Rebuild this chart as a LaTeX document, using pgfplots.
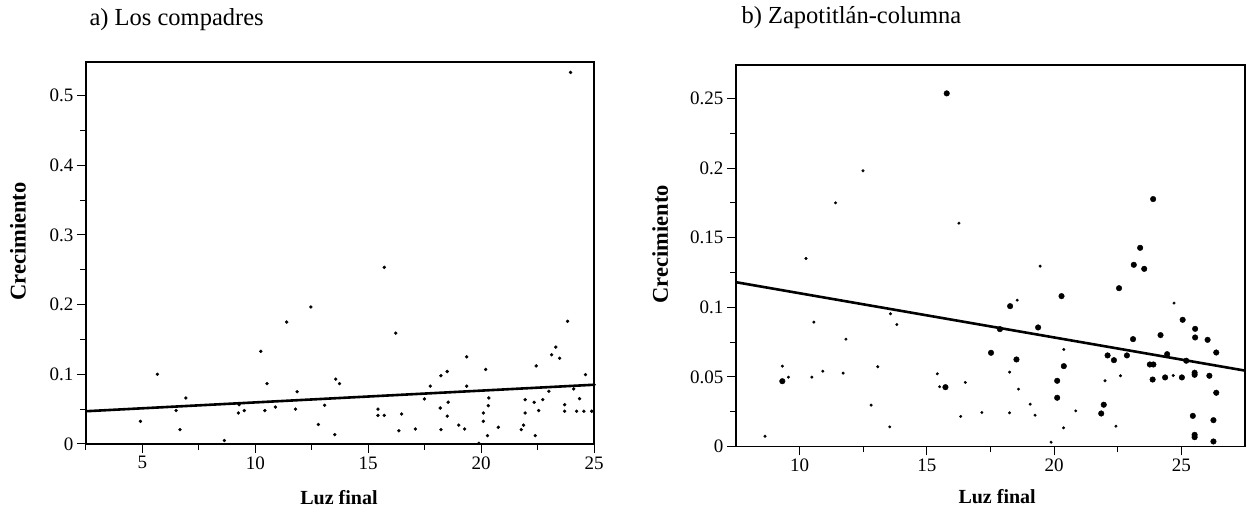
\documentclass[border=0pt]{standalone}
\usepackage{fontspec}
\setmainfont{Liberation Serif}
\usepackage{pgfplots}
\pgfplotsset{compat=1.18}

\pgfplotsset{
  refstyle/.style={
    scale only axis,
    anchor=south west,
    clip=false,
    tick pos=left,
    tick align=outside,
    major tick length=9pt,
    minor tick length=6pt,
    every tick/.style={black, line width=1pt},
    axis line style={line width=1.1pt},
    tick label style={font=\fontsize{19}{19}\selectfont},
    /pgf/number format/assume math mode=true,
    /pgf/number format/.cd, fixed, precision=3,
    /pgfplots/.cd,
    xlabel style={font=\fontsize{20}{20}\selectfont\bfseries},
    ylabel style={font=\fontsize{22.5}{22.5}\selectfont\bfseries},
    title style={anchor=west, font=\fontsize{24.5}{24.5}\selectfont},
  }
}

\begin{document}
\begin{tikzpicture}
\useasboundingbox (0,0) rectangle (1247pt,513pt);

% ---------------- a) Los compadres ----------------
\begin{axis}[refstyle,
  at={(86pt,69pt)}, width=508pt, height=382pt,
  xmin=2.5, xmax=25, ymin=0, ymax=0.548,
  xtick={5,10,15,20,25}, minor xtick={2.5,7.5,12.5,17.5,22.5},
  ytick={0,0.1,0.2,0.3,0.4,0.5}, minor ytick={0.05,0.15,0.25,0.35,0.45},
  xlabel={Luz final}, ylabel={Crecimiento},
  xlabel style={at={(axis description cs:0.498,-0.139)}, anchor=center},
  ylabel style={at={(axis description cs:-0.134,0.53)}, anchor=center},
  title={a) Los compadres},
  title style={at={(axis description cs:0,1.095)}},
]
\addplot[only marks, mark=*, mark size=1.5pt, black] coordinates {
(23.96,0.533) (15.71,0.2535) (12.46,0.1966) (11.39,0.175) (23.83,0.176)
(16.22,0.159) (10.24,0.133) (23.31,0.139) (23.12,0.128) (23.48,0.123)
(19.36,0.125) (22.44,0.112) (20.2,0.107) (18.5,0.104) (18.22,0.098)
(5.66,0.100) (24.62,0.0995) (13.56,0.093) (13.73,0.0866) (10.52,0.0866)
(17.75,0.083) (19.36,0.083) (24.1,0.079) (11.85,0.075) (23.0,0.0756)
(6.92,0.066) (17.49,0.0646) (20.34,0.066) (21.95,0.0636) (22.73,0.0636)
(24.36,0.065) (18.54,0.060) (22.35,0.0598) (23.7,0.0564) (13.07,0.0555)
(20.32,0.055) (10.89,0.053) (9.28,0.0564) (18.19,0.0516) (11.78,0.050)
(15.43,0.050) (6.49,0.048) (9.51,0.048) (10.42,0.048) (22.55,0.048)
(23.7,0.047) (24.23,0.047) (24.55,0.047) (24.9,0.047) (9.25,0.0445)
(20.1,0.0445) (21.95,0.0445) (15.43,0.041) (15.71,0.041) (16.48,0.043)
(18.5,0.040) (4.91,0.0325) (20.1,0.0325) (12.79,0.028) (19.01,0.027)
(21.88,0.027) (20.76,0.024) (17.09,0.0215) (18.22,0.0206) (19.27,0.0215)
(6.66,0.0206) (16.36,0.019) (21.78,0.0206) (13.52,0.0134) (20.28,0.012)
(22.4,0.012) (8.63,0.005) (19.9,0.001) (25.0,0.085)
};
\addplot[black, line width=2.6pt] coordinates {(2.5,0.047) (25,0.085)};
\end{axis}

% ---------------- b) Zapotitlan-columna ----------------
\begin{axis}[refstyle,
  at={(736pt,66.5pt)}, width=509pt, height=381.5pt,
  xmin=7.5, xmax=27.5, ymin=0, ymax=0.274,
  xtick={10,15,20,25}, minor xtick={12.5,17.5,22.5},
  ytick={0,0.05,0.1,0.15,0.2,0.25}, minor ytick={0.025,0.075,0.125,0.175,0.225},
  xlabel={Luz final}, ylabel={Crecimiento},
  xlabel style={at={(axis description cs:0.513,-0.131)}, anchor=center},
  ylabel style={at={(axis description cs:-0.149,0.53)}, anchor=center},
  title={b) Zapotitlán-columna},
  title style={at={(axis description cs:0.004,1.108)}},
]
% small points
\addplot[only marks, mark=*, mark size=1.3pt, black] coordinates {
(11.41,0.175) (16.26,0.1604) (10.25,0.135) (13.57,0.0953) (13.82,0.0876)
(10.56,0.0893) (11.82,0.0771) (9.32,0.0577) (13.07,0.0573) (10.91,0.0541)
(11.71,0.0527) (10.48,0.0498) (9.56,0.0498) (15.41,0.0522) (15.5,0.0429)
(16.51,0.046) (12.81,0.0297) (16.33,0.0216) (13.54,0.0141) (8.64,0.0074)
(12.49,0.198) (19.45,0.1295) (18.55,0.1051) (24.71,0.103) (20.38,0.0697)
(18.25,0.0534) (22.0,0.0472) (22.61,0.0508) (24.68,0.051) (18.6,0.0412)
(19.06,0.0304) (17.16,0.0244) (18.25,0.0242) (19.25,0.0225) (20.85,0.0256)
(20.37,0.0134) (22.43,0.0146) (19.88,0.0031)
};
% large points
\addplot[only marks, mark=*, mark size=2.8pt, black] coordinates {
(9.32,0.0469) (15.73,0.0426) (15.78,0.2536)
(23.89,0.1777) (23.38,0.1427) (23.13,0.1305) (23.54,0.1276) (22.55,0.1137)
(20.29,0.108) (18.27,0.1008) (25.05,0.091) (19.37,0.0855) (17.87,0.0843)
(25.54,0.0845) (25.54,0.0783) (26.03,0.0766) (24.18,0.080) (23.1,0.0771)
(26.37,0.0675) (17.52,0.0673) (22.1,0.0654) (22.86,0.0654) (24.44,0.0663)
(22.35,0.062) (25.19,0.0616) (18.52,0.0625) (20.38,0.0577) (23.76,0.0589)
(23.9,0.0589) (20.12,0.0472) (23.87,0.0481) (24.36,0.0496) (25.02,0.0496)
(25.52,0.0515) (25.52,0.053) (26.1,0.0508) (26.37,0.0386) (20.12,0.035)
(21.95,0.030) (21.85,0.0237) (25.45,0.022) (26.26,0.0189) (25.52,0.0084)
(25.52,0.0067) (26.26,0.0036)
};
\addplot[black, line width=2.6pt] coordinates {(7.5,0.118) (27.5,0.0545)};
\end{axis}
\end{tikzpicture}
\end{document}
